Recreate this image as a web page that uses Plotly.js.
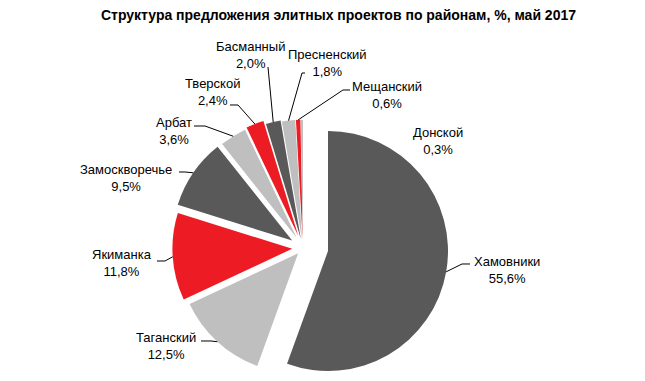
<!DOCTYPE html>
<html>
<head>
<meta charset="utf-8">
<script src="https://cdn.plot.ly/plotly-3.0.1.min.js"></script>
<style>
  html, body { margin: 0; padding: 0; background: #fff; overflow: hidden; }
  #chart { width: 645px; height: 381px; }
</style>
</head>
<body>
<div id="chart"></div>
<script>
// ---- data ----
var districts = ["Хамовники", "Таганский", "Якиманка", "Замоскворечье", "Арбат",
                 "Тверской", "Басманный", "Пресненский", "Мещанский", "Донской"];
var shares = [55.6, 12.5, 11.8, 9.5, 3.6, 2.4, 2.0, 1.8, 0.6, 0.3];
var chartTitle = "Структура предложения элитных проектов по районам, %, май 2017";

// ---- styles ----
var DARK = "#595959", LIGHT = "#BFBFBF", RED = "#ED1C24", NONE = "rgba(0,0,0,0)";
var colors = [DARK, LIGHT, RED, DARK, LIGHT, RED, DARK, LIGHT, RED, LIGHT];
var W = 645, H = 381;

// The big slice is drawn on its own (detached) pie, the rest on a second pie
// shifted to the left; both share the same radius.
var bigDomain = { x: [208 / W, 448 / W], y: [10 / H, 250 / H] };
var bigPulls = [0, 0, 0, 0, 0, 0, 0, 0, 0, 0];
var restDomain = { x: [163 / W, 443 / W], y: [0, 266 / H] };
var restPulls = [0, 0.06, 0.09, 0.11, 0.10, 0.11, 0.08, 0.07, 0.07, 0.07];

// label placement (pixel centres) and leader line starts (layout only)
var labelPos = [[507, 269.5], [165.5, 345.5], [122, 263], [126, 177.5], [174, 131],
                [212, 91.5], [250, 55.5], [327, 63], [387, 94.5], [438, 141.5]];
var leaderStart = [[[470, 264], [462, 264]], [[201, 341], [211, 341]], [[157, 261], [165, 261]],
                   [[179, 172], [185, 172]], [[194, 126], [205, 126]], [[230, 105], [238, 105]],
                   [[268, 67]], [[305, 73], [302, 73]], [[350, 90], [343, 90]], null];

function fmt(v) { return v.toFixed(1).replace(".", ",") + "%"; }

// pie geometry, same formula Plotly uses (margins are zero)
function geom(dom, pulls) {
  var maxPull = Math.max.apply(null, pulls);
  var bw = W * (dom.x[1] - dom.x[0]), bh = H * (dom.y[1] - dom.y[0]);
  return {
    r: Math.min(bw / 2, bh / 2) / (1 + maxPull),
    cx: W * (dom.x[0] + dom.x[1]) / 2,
    cy: H * (1 - dom.y[0]) - bh / 2
  };
}
var gBig = geom(bigDomain, bigPulls), gRest = geom(restDomain, restPulls);
var total = shares.reduce(function (a, b) { return a + b; }, 0);

var annotations = [], shapes = [];
var cum = 0;
shares.forEach(function (v, i) {
  var mid = (cum + v / 2) / total * 2 * Math.PI;
  cum += v;
  var g = i === 0 ? gBig : gRest;
  var p = i === 0 ? bigPulls[i] : restPulls[i];
  var rr = g.r * (1 + p);
  var ex = g.cx + rr * Math.sin(mid), ey = g.cy - rr * Math.cos(mid);
  annotations.push({
    xref: "paper", yref: "paper", x: labelPos[i][0] / W, y: 1 - labelPos[i][1] / H,
    xanchor: "center", yanchor: "middle", showarrow: false, align: "center",
    text: districts[i] + "<br>" + fmt(v),
    font: { family: "Liberation Sans, Arial, sans-serif", size: 13, color: "#000" }
  });
  if (leaderStart[i]) {
    var pts = leaderStart[i].concat([[ex, ey]]);
    var d = pts.map(function (pt, k) {
      return (k ? "L" : "M") + (pt[0] / W).toFixed(5) + "," + (1 - pt[1] / H).toFixed(5);
    }).join(" ");
    shapes.push({ type: "path", xref: "paper", yref: "paper", path: d,
                  line: { color: "#000", width: 1 } });
  }
});

var common = {
  type: "pie", labels: districts, values: shares, sort: false,
  direction: "clockwise", rotation: 0, textinfo: "none",
  hoverinfo: "label+percent", showlegend: false
};
var bigTrace = Object.assign({}, common, {
  domain: bigDomain, pull: bigPulls,
  marker: { colors: colors.map(function (c, i) { return i === 0 ? c : NONE; }), line: { width: 0 } }
});
var restTrace = Object.assign({}, common, {
  domain: restDomain, pull: restPulls,
  marker: { colors: colors.map(function (c, i) { return i === 0 ? NONE : c; }), line: { width: 0 } }
});

var layout = {
  width: W, height: H,
  margin: { l: 0, r: 0, t: 0, b: 0 },
  paper_bgcolor: "#fff",
  title: {
    text: "<b>" + chartTitle + "</b>",
    x: 338.5 / W, xanchor: "center",
    y: 1 - 15 / H, yanchor: "middle", yref: "container",
    font: { family: "Liberation Sans, Arial, sans-serif", size: 14, color: "#000" }
  },
  annotations: annotations,
  shapes: shapes
};

Plotly.newPlot("chart", [bigTrace, restTrace], layout, { displayModeBar: false, staticPlot: true });
</script>
</body>
</html>
